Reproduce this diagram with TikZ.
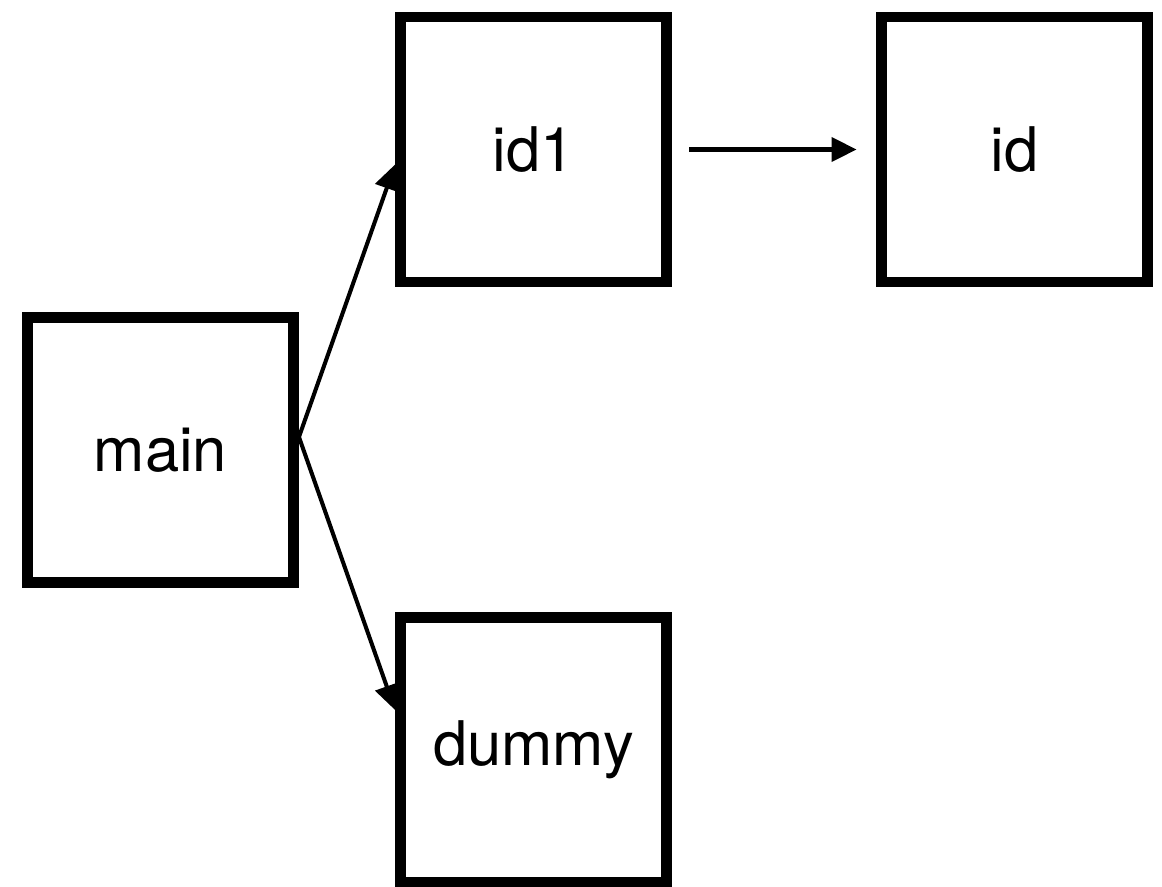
\documentclass[tikz,border=0pt]{standalone}
\usepackage{fontspec}
\setmainfont{TeX Gyre Heros}
\usetikzlibrary{arrows.meta}

\begin{document}
\begin{tikzpicture}[
    fnbox/.style={draw, line width=6.2pt, minimum width=5.32cm,
      minimum height=5.3cm, inner sep=0pt, font=\fontsize{35}{42}\selectfont},
    call/.style={line width=2.3pt, -{Triangle[length=0.5cm, width=0.48cm]}}
  ]
  % Frame
  \useasboundingbox (0,0) rectangle (23.24,-17.72);
  % Functions
  \node[fnbox] (main)  at (3.21,-9.0)   {main};
  \node[fnbox] (id1)   at (10.67,-2.99) {id1};
  \node[fnbox] (id)    at (20.29,-2.99) {id};
  \node[fnbox] (dummy) at (10.67,-15.0) {dummy};
  % Calls
  \draw[call] ([yshift=0.26cm]main.east) -- ([yshift=-0.3cm]id1.west);
  \draw[call] ([yshift=0.26cm]main.east) -- ([yshift=0.8cm]dummy.west);
  \draw[call, shorten <=0.35cm, shorten >=0.39cm] (id1.east) -- (id.west);
\end{tikzpicture}
\end{document}
